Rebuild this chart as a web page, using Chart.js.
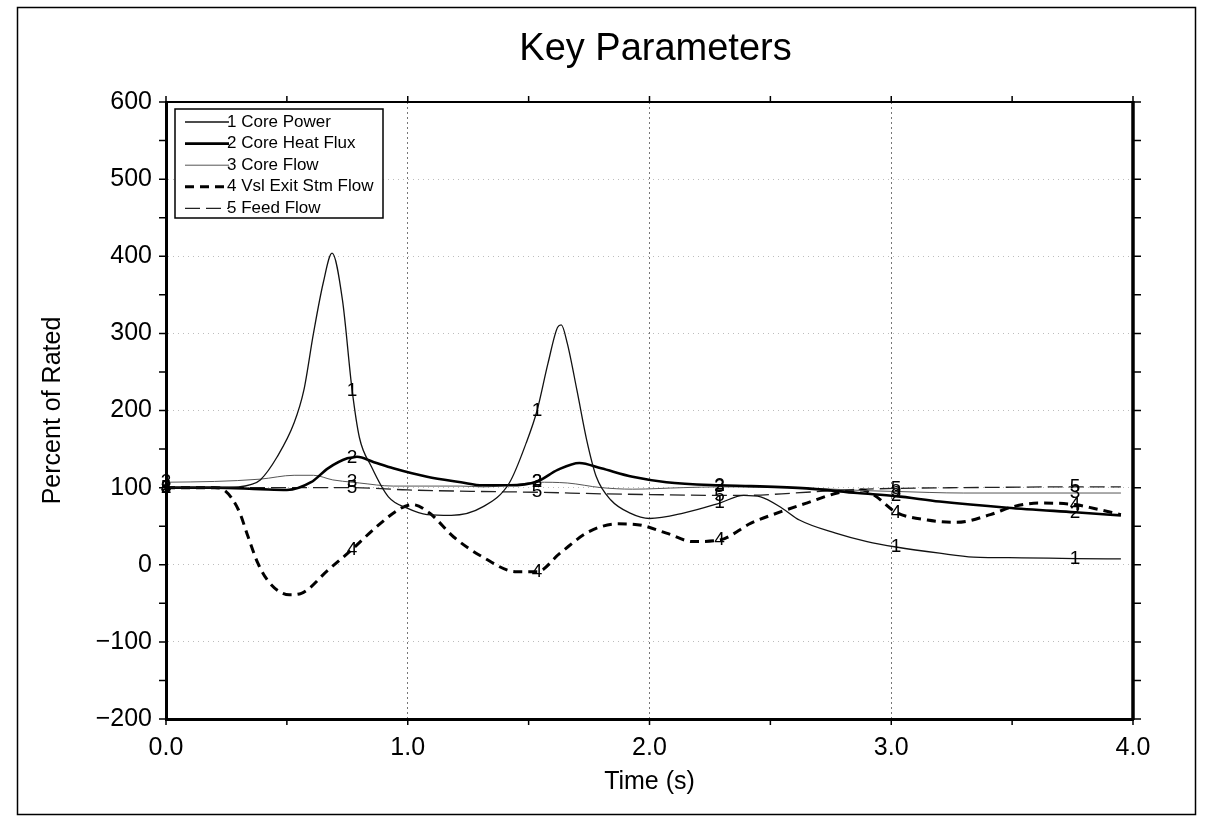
<!DOCTYPE html>
<html>
<head>
<meta charset="utf-8">
<title>Key Parameters</title>
<script src="https://cdn.jsdelivr.net/npm/chart.js@4.4.1/dist/chart.umd.min.js"></script>
<style>
	body { margin: 0; background: #fff; }
	canvas { display: block; }
</style>
</head>
<body>
<canvas id="chart" width="1206" height="820"></canvas>
<script>
// Series names (legend order)
const seriesNames = ["Core Power", "Core Heat Flux", "Core Flow", "Vsl Exit Stm Flow", "Feed Flow"];
const chartTitle = "Key Parameters";

// 1 Core Power
const powerTime = [0, 0.1, 0.2, 0.3, 0.35, 0.39, 0.46, 0.53, 0.57, 0.61, 0.65, 0.687, 0.73, 0.77, 0.8, 0.85, 0.92, 1.0, 1.08, 1.18, 1.31, 1.42, 1.49, 1.535, 1.58, 1.62, 1.635, 1.66, 1.7, 1.74, 1.78, 1.84, 1.92, 2.0, 2.14, 2.29, 2.39, 2.46, 2.55, 2.62, 2.77, 2.9, 3.02, 3.2, 3.34, 3.54, 3.76, 3.95];
const powerValue = [100, 100, 100, 101, 104, 110, 140, 184, 226, 300, 365, 404, 343, 226, 165, 127, 88, 73, 65, 64, 75, 106, 158, 200, 261, 308, 311, 287, 226, 162, 114, 84, 67, 60, 67, 80, 90, 88, 73, 58, 41, 30, 23, 15, 10, 9, 8, 7.5];

// 2 Core Heat Flux
const heatTime = [0, 0.2, 0.39, 0.5, 0.6, 0.67, 0.75, 0.77, 0.79, 0.86, 0.94, 1.08, 1.22, 1.31, 1.42, 1.535, 1.62, 1.71, 1.8, 1.93, 2.07, 2.29, 2.42, 2.65, 2.86, 3.02, 3.2, 3.48, 3.76, 3.95];
const heatValue = [100, 100, 98, 97, 107, 125, 138, 139, 140, 133, 125, 114, 107, 103, 103, 108, 123, 132, 125, 114, 107, 103, 102, 99, 93, 89, 82, 74, 68, 64];

// 3 Core Flow
const flowTime = [0, 0.2, 0.39, 0.53, 0.61, 0.69, 0.77, 0.8, 0.94, 1.22, 1.31, 1.45, 1.535, 1.66, 1.8, 1.93, 2.14, 2.29, 2.6, 2.9, 3.02, 3.3, 3.76, 3.95];
const flowValue = [107, 108, 111, 116, 116, 110, 107, 106, 102, 102, 101, 104, 107, 106, 100, 98, 100, 101, 100, 96, 95, 93, 93, 93];

// 4 Vsl Exit Stm Flow
const steamTime = [0, 0.1, 0.2, 0.24, 0.3, 0.34, 0.38, 0.43, 0.51, 0.56, 0.67, 0.77, 0.87, 0.97, 1.02, 1.09, 1.19, 1.31, 1.45, 1.535, 1.63, 1.75, 1.87, 1.95, 2.07, 2.18, 2.29, 2.42, 2.51, 2.65, 2.79, 2.88, 2.93, 3.02, 3.15, 3.27, 3.41, 3.5, 3.61, 3.76, 3.84, 3.95];
const steamValue = [100, 100, 100, 97, 71, 36, 2, -24, -39, -37, -7, 20, 49, 73, 78, 67, 36, 10, -9, -9, 15, 43, 53, 52, 41, 30, 32, 54, 65, 80, 94, 97, 90, 68, 58, 55, 65, 75, 80, 78, 73, 65];

// 5 Feed Flow
const feedTime = [0, 0.5, 0.77, 1.0, 1.3, 1.535, 1.8, 2.0, 2.29, 2.4, 2.6, 2.8, 3.02, 3.3, 3.76, 3.95];
const feedValue = [100, 100, 100, 97, 95, 94, 92, 91, 90, 90, 93, 97, 99, 100, 101, 101];

// Times where the curve numbers are printed
const labelTimes = [0, 0.77, 1.535, 2.29, 3.02, 3.76];

const FONT = "'Liberation Sans', Arial, sans-serif";

function toPoints(times, values) {
	return times.map((t, i) => ({ x: t, y: values[i] }));
}

// white page, outer frame, title
const framePlugin = {
	id: "frame",
	beforeDraw(chart) {
		const { ctx, chartArea: a } = chart;
		ctx.save();
		ctx.fillStyle = "#fff";
		ctx.fillRect(0, 0, chart.width, chart.height);
		ctx.strokeStyle = "#000";
		ctx.lineWidth = 1.5;
		ctx.strokeRect(17.5, 7.5, 1178, 807);
		// title centred over the plot area
		ctx.fillStyle = "#000";
		ctx.font = "38px " + FONT;
		ctx.textAlign = "center";
		ctx.textBaseline = "middle";
		ctx.fillText(chartTitle, (a.left + a.right) / 2 + 6, 50);
		ctx.restore();
	},
	afterDraw(chart) {
		const { ctx, chartArea: a } = chart;
		const xs = chart.scales.x;
		const ys = chart.scales.y;
		ctx.save();
		ctx.strokeStyle = "#000";
		// top and right border
		ctx.lineWidth = 2;
		ctx.beginPath();
		ctx.moveTo(a.left, a.top);
		ctx.lineTo(a.right, a.top);
		ctx.stroke();
		ctx.lineWidth = 3.5;
		ctx.beginPath();
		ctx.moveTo(a.right, a.top - 1);
		ctx.lineTo(a.right, a.bottom + 1);
		ctx.stroke();
		// small tick marks
		ctx.lineWidth = 1.5;
		ctx.beginPath();
		for (let v = -200; v <= 600; v += 50) {
			const py = ys.getPixelForValue(v);
			ctx.moveTo(a.left - 7, py);
			ctx.lineTo(a.left, py);
			ctx.moveTo(a.right, py);
			ctx.lineTo(a.right + 8, py);
		}
		for (let t = 0; t <= 4; t += 0.5) {
			const px = xs.getPixelForValue(t);
			ctx.moveTo(px, a.bottom);
			ctx.lineTo(px, a.bottom + 6);
			ctx.moveTo(px, a.top);
			ctx.lineTo(px, a.top - 6);
		}
		ctx.stroke();
		ctx.restore();
	},
};

// numbers printed on each curve
const curveNumbers = {
	id: "curveNumbers",
	afterDatasetsDraw(chart) {
		const ctx = chart.ctx;
		ctx.save();
		ctx.font = "19px " + FONT;
		ctx.fillStyle = "#000";
		ctx.textAlign = "center";
		ctx.textBaseline = "middle";
		chart.data.datasets.forEach((ds, i) => {
			const meta = chart.getDatasetMeta(i);
			ds.data.forEach((p, j) => {
				if (labelTimes.includes(p.x)) {
					const el = meta.data[j];
					ctx.fillText(String(i + 1), el.x, el.y);
				}
			});
		});
		ctx.restore();
	},
};

// legend box inside the plot, top-left
const boxLegend = {
	id: "boxLegend",
	afterDraw(chart) {
		const { ctx, chartArea: a } = chart;
		const bx = a.left + 9;
		const by = a.top + 7;
		const rowH = 21.6;
		ctx.save();
		ctx.fillStyle = "#fff";
		ctx.fillRect(bx, by, 208, 109);
		ctx.strokeStyle = "#000";
		ctx.lineWidth = 1.5;
		ctx.strokeRect(bx, by, 208, 109);
		ctx.font = "17px " + FONT;
		ctx.textBaseline = "middle";
		chart.data.datasets.forEach((ds, i) => {
			const y = by + 13 + i * rowH;
			ctx.strokeStyle = ds.borderColor;
			ctx.lineWidth = ds.borderWidth;
			ctx.setLineDash(ds.borderDash || []);
			ctx.beginPath();
			ctx.moveTo(bx + 10, y);
			ctx.lineTo(bx + 54, y);
			ctx.stroke();
			ctx.setLineDash([]);
			ctx.fillStyle = "#000";
			ctx.fillText((i + 1) + " " + seriesNames[i], bx + 52, y);
		});
		ctx.restore();
	},
};

const lineBase = {
	pointRadius: 0,
	pointHoverRadius: 0,
	fill: false,
	cubicInterpolationMode: "monotone",
};

new Chart(document.getElementById("chart"), {
	type: "line",
	data: {
		datasets: [
			{ ...lineBase, label: seriesNames[0], data: toPoints(powerTime, powerValue), borderColor: "#111", borderWidth: 1.3 },
			{ ...lineBase, label: seriesNames[1], data: toPoints(heatTime, heatValue), borderColor: "#000", borderWidth: 2.6 },
			{ ...lineBase, label: seriesNames[2], data: toPoints(flowTime, flowValue), borderColor: "#555", borderWidth: 1 },
			{ ...lineBase, label: seriesNames[3], data: toPoints(steamTime, steamValue), borderColor: "#000", borderWidth: 3, borderDash: [9, 6] },
			{ ...lineBase, label: seriesNames[4], data: toPoints(feedTime, feedValue), borderColor: "#222", borderWidth: 1.3, borderDash: [15, 6] },
		],
	},
	options: {
		responsive: false,
		animation: false,
		layout: { padding: { top: 102, right: 73 } },
		plugins: {
			legend: { display: false },
			tooltip: { enabled: false },
			title: { display: false },
		},
		scales: {
			x: {
				type: "linear",
				min: 0,
				max: 4,
				ticks: {
					stepSize: 1,
					color: "#000",
					padding: 14,
					maxRotation: 0,
					font: { family: FONT, size: 25 },
					callback: (v) => v.toFixed(1),
				},
				grid: {
					color: (c) => (c.tick && c.tick.value > 0 && c.tick.value < 4 ? "#777" : "rgba(0,0,0,0)"),
					lineWidth: 1,
					drawTicks: false,
				},
				border: { display: true, color: "#000", width: 3, dash: [2, 3] },
				title: {
					display: true,
					text: "Time (s)",
					color: "#000",
					font: { family: FONT, size: 25 },
					padding: { top: 0, bottom: 23 },
				},
				afterFit: (s) => { s.height = 101; },
			},
			y: {
				min: -200,
				max: 600,
				ticks: {
					stepSize: 100,
					color: "#000",
					padding: 14,
					font: { family: FONT, size: 25 },
					callback: (v) => (v < 0 ? "\u2212" + Math.abs(v) : String(v)),
				},
				grid: {
					color: (c) => (c.tick && c.tick.value > -200 && c.tick.value < 600 ? "#bdbdbd" : "rgba(0,0,0,0)"),
					lineWidth: 1,
					drawTicks: false,
				},
				border: { display: true, color: "#000", width: 3, dash: [1, 4] },
				title: {
					display: true,
					text: "Percent of Rated",
					color: "#000",
					font: { family: FONT, size: 25 },
					padding: { top: 38, bottom: 0 },
				},
				afterFit: (s) => { s.width = 166; },
			},
		},
	},
	plugins: [framePlugin, curveNumbers, boxLegend],
});
</script>
</body>
</html>
